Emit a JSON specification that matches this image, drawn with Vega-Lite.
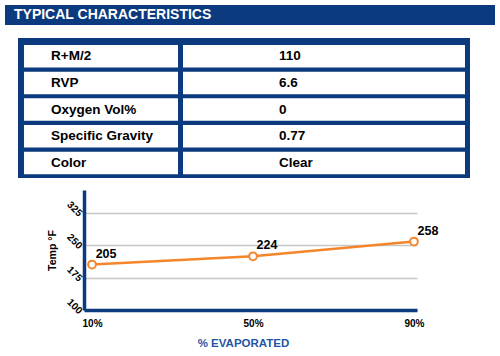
{
  "$schema": "https://vega.github.io/schema/vega-lite/v6.json",
  "padding": {"left": 5, "top": 5, "right": 5, "bottom": 5},
  "background": "white",
  "config": {"view": {"stroke": null}, "font": "Liberation Sans"},
  "spacing": 12,
  "vconcat": [
    {
      "spacing": 13,
      "vconcat": [
        {
          "width": 490,
          "height": 20,
          "view": {"fill": "#0b3a7e", "stroke": null},
          "data": {"values": [{"heading": "TYPICAL CHARACTERISTICS"}]},
          "mark": {"type": "text", "align": "left", "baseline": "middle", "dx": 9, "fontSize": 14, "fontWeight": "bold", "color": "white"},
          "encoding": {
            "text": {"field": "heading"},
            "x": {"datum": 0, "type": "quantitative", "scale": {"domain": [0, 1]}, "axis": null}
          }
        },
        {
          "spacing": 0,
          "hconcat": [
            {"width": 13, "height": 1, "data": {"values": []}, "mark": "point", "encoding": {}},
            {
              "width": 452,
              "height": 140,
              "view": {"fill": "#0b3a7e", "stroke": null},
              "data": {"values": [
                {"property": "R+M/2", "value": "110"},
                {"property": "RVP", "value": "6.6"},
                {"property": "Oxygen Vol%", "value": "0"},
                {"property": "Specific Gravity", "value": "0.77"},
                {"property": "Color", "value": "Clear"}
              ]},
              "encoding": {
                "y": {"field": "property", "type": "nominal", "sort": null, "scale": {"paddingInner": 0.157, "paddingOuter": 0.2, "align": 0.65}, "axis": null}
              },
              "layer": [
                {
                  "mark": {"type": "rect", "color": "white"},
                  "encoding": {
                    "x": {"datum": 6, "type": "quantitative", "scale": {"domain": [0, 452], "nice": false, "zero": false}, "axis": null},
                    "x2": {"datum": 160}
                  }
                },
                {
                  "mark": {"type": "rect", "color": "white"},
                  "encoding": {
                    "x": {"datum": 165, "type": "quantitative"},
                    "x2": {"datum": 447}
                  }
                },
                {
                  "mark": {"type": "text", "align": "left", "baseline": "middle", "fontSize": 13.5, "fontWeight": "bold", "color": "black"},
                  "encoding": {
                    "x": {"datum": 33, "type": "quantitative"},
                    "text": {"field": "property"}
                  }
                },
                {
                  "mark": {"type": "text", "align": "left", "baseline": "middle", "fontSize": 13.5, "fontWeight": "bold", "color": "black"},
                  "encoding": {
                    "x": {"datum": 261, "type": "quantitative"},
                    "text": {"field": "value"}
                  }
                }
              ]
            }
          ]
        }
      ]
    },
    {
      "spacing": 0,
      "hconcat": [
        {"width": 42, "height": 1, "data": {"values": []}, "mark": "point", "encoding": {}},
        {
          "width": 333,
          "height": 120,
          "data": {"values": [
            {"pct": 10, "temp": 205},
            {"pct": 50, "temp": 224},
            {"pct": 90, "temp": 258}
          ]},
          "encoding": {
            "x": {
              "field": "pct", "type": "quantitative",
              "scale": {"domain": [8, 90.75], "nice": false, "zero": false},
              "axis": {
                "values": [10, 50, 90], "labelExpr": "datum.value + '%'",
                "ticks": false, "grid": false,
                "domainColor": "#0b3a7e", "domainWidth": 3.5,
                "labelFontSize": 10, "labelFontWeight": "bold", "labelColor": "black", "labelPadding": 8,
                "title": "% EVAPORATED", "titleFontSize": 11.5, "titleFontWeight": "bold", "titleColor": "#1f55a5",
                "titleX": 159, "titleY": 27, "titleBaseline": "top", "titleAlign": "center"
              }
            },
            "y": {
              "field": "temp", "type": "quantitative",
              "scale": {"domain": [100, 377], "nice": false, "zero": false},
              "axis": {
                "values": [100, 175, 250, 325],
                "ticks": false, "grid": true, "gridColor": "#c8c8c8", "gridWidth": 1.5,
                "domainColor": "#0b3a7e", "domainWidth": 3.5,
                "labelAngle": 45, "labelAlign": "right", "labelBaseline": "middle", "labelPadding": 4, "labelOffset": 2,
                "labelFontSize": 10, "labelFontWeight": "bold", "labelColor": "black",
                "title": "Temp °F", "titleFontSize": 10.5, "titleFontWeight": "bold", "titleColor": "black",
                "titleX": -29, "titleBaseline": "alphabetic", "titleAngle": -90
              }
            }
          },
          "layer": [
            {"mark": {"type": "line", "color": "#f5852a", "strokeWidth": 2.5}},
            {"mark": {"type": "point", "shape": "circle", "filled": true, "fill": "white", "stroke": "#f5852a", "strokeWidth": 2, "size": 60, "opacity": 1}},
            {
              "mark": {"type": "text", "align": "center", "baseline": "middle", "dx": 14, "dy": -11, "fontSize": 12.5, "fontWeight": "bold", "color": "black"},
              "encoding": {"text": {"field": "temp", "type": "quantitative"}}
            }
          ]
        }
      ]
    }
  ]
}
